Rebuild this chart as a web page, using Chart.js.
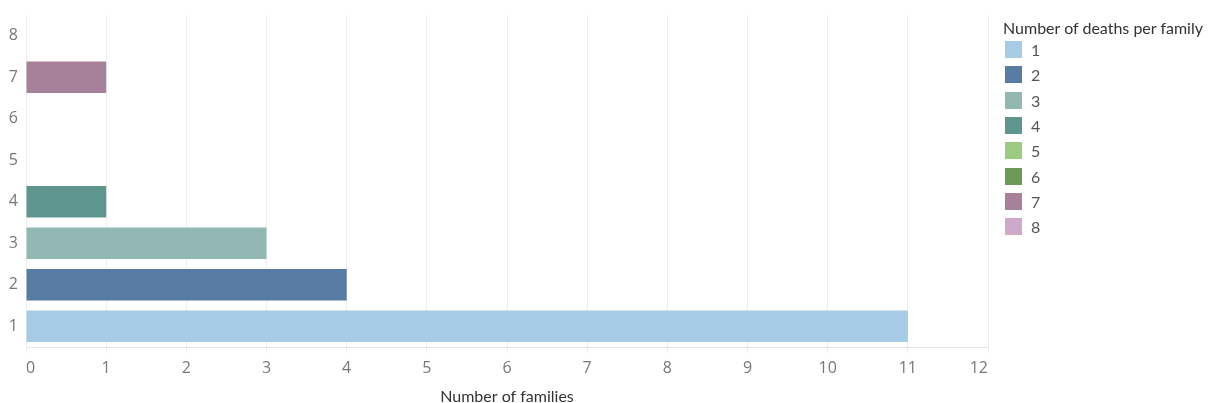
<!DOCTYPE html>
<html>
<head>
<meta charset="utf-8">
<script src="https://cdn.jsdelivr.net/npm/chart.js@4/dist/chart.umd.min.js"></script>
<style>
  html, body { margin: 0; padding: 0; background: #fff; }
  #wrap { position: relative; width: 1208px; height: 403px; }
  #c { position: absolute; left: 0; top: 0; }
  #legend { position: absolute; left: 1003px; top: 18px; font-family: "Lato", "Open Sans", sans-serif; }
  #legend .title { font-size: 16px; color: #333; height: 20px; line-height: 20px; margin-bottom: -1px; }
  #legend .item { display: flex; align-items: center; height: 25.3px; }
  #legend .sw { width: 17px; height: 17px; margin-left: 2px; margin-right: 9px; }
  #legend .lab { font-size: 16px; color: #555; }
</style>
</head>
<body>
<div id="wrap">
  <canvas id="c" width="1208" height="403"></canvas>
  <div id="legend"></div>
</div>
<script>
const categories = ['1', '2', '3', '4', '5', '6', '7', '8'];
const families = [11, 4, 3, 1, 0, 0, 1, 0];
const colors = ['#a6cbe4', '#577ba3', '#93b8b3', '#5e958f', '#9ccb81', '#6b9956', '#a78099', '#cfa9c9'];
const xTicks = [0, 1, 2, 3, 4, 5, 6, 7, 8, 9, 10, 11, 12];
const legendTitle = 'Number of deaths per family';
const xTitle = 'Number of families';

const lg = document.getElementById('legend');
const t = document.createElement('div');
t.className = 'title'; t.textContent = legendTitle; lg.appendChild(t);
categories.forEach((c, i) => {
  const it = document.createElement('div'); it.className = 'item';
  const sw = document.createElement('div'); sw.className = 'sw'; sw.style.background = colors[i];
  const lb = document.createElement('div'); lb.className = 'lab'; lb.textContent = c;
  it.appendChild(sw); it.appendChild(lb); lg.appendChild(it);
});

const font = "'Lato', 'Open Sans', sans-serif";
const tickFont = "'Open Sans', 'Lato', sans-serif";
new Chart(document.getElementById('c'), {
  type: 'bar',
  data: {
    labels: categories,
    datasets: [{ data: families, backgroundColor: colors, categoryPercentage: 1, barPercentage: 0.76, borderWidth: 0 }]
  },
  options: {
    indexAxis: 'y',
    responsive: false,
    animation: false,
    layout: { padding: { left: 4, right: 220, top: 15, bottom: 0 } },
    plugins: { legend: { display: false }, tooltip: { enabled: false } },
    scales: {
      x: {
        min: 0, max: 12,
        afterBuildTicks: (ax) => { ax.ticks = xTicks.map(v => ({ value: v })); },
        afterFit: (ax) => { ax.height = 56; },
        grid: { color: '#eeeeee', lineWidth: 1, tickLength: 6, drawTicks: true },
        border: { color: '#e6e6e6' },
        ticks: { color: '#777', font: { family: tickFont, size: 16 }, padding: 6, align: 'inner' },
        title: { display: true, text: xTitle, color: '#333', font: { family: font, size: 16, lineHeight: 1 }, padding: { top: 0, bottom: -2 } }
      },
      y: {
        reverse: true,
        afterFit: (ax) => { ax.width = 22; },
        grid: { display: false },
        border: { display: false },
        ticks: { color: '#777', font: { family: tickFont, size: 16 }, padding: 0 }
      }
    }
  }
});
</script>
</body>
</html>
